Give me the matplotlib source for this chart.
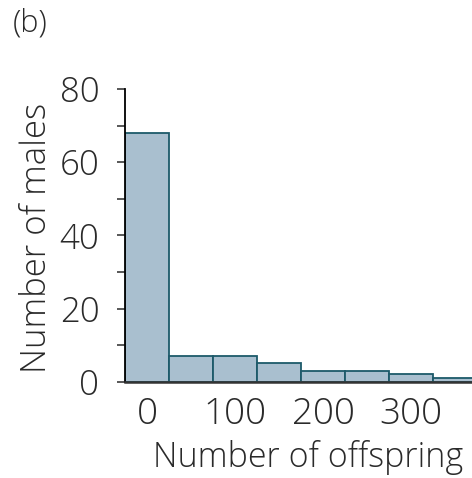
import numpy as np
import matplotlib as mpl
import matplotlib.pyplot as plt

mpl.rcParams['font.family'] = ['Open Sans', 'DejaVu Sans']

# Histogram counts (bins of 50 offspring, centred on 0, 50, 100, ...)
bin_centers = [0, 50, 100, 150, 200, 250, 300, 350]
counts = [68, 7, 7, 5, 3, 3, 2, 1]
bin_width = 50
x_ticks = [0, 100, 200, 300]
y_ticks = [0, 20, 40, 60, 80]

fig = plt.figure(figsize=(4.72, 4.78), dpi=100)
ax = fig.add_axes([0.2648, 0.2015, 0.7352, 0.6123])

ax.bar(bin_centers, counts, width=bin_width, color="#a9bfcf",
       edgecolor="#1d5a6a", linewidth=1.3, align="center")

ax.set_xlim(-25, 369)
ax.set_ylim(0, 80)

for s in ["top", "right"]:
    ax.spines[s].set_visible(False)
ax.spines["left"].set_linewidth(1.3)
ax.spines["bottom"].set_linewidth(1.8)
ax.spines["bottom"].set_color("#333333")

ax.set_yticks(y_ticks)
ax.set_yticks([10, 30, 50, 70], minor=True)
ax.tick_params(axis="y", which="both", direction="out", length=5.5, width=1.1,
               labelsize=25, pad=13, colors="#2a2a2a")
ax.set_xticks(x_ticks)
ax.tick_params(axis="x", length=0, labelsize=26.5, pad=10, colors="#2a2a2a")
for lab in ax.get_xticklabels() + ax.get_yticklabels():
    lab.set_fontweight("light")

ax.set_xlabel("Number of offspring", fontsize=24.5, color="#2a2a2a", fontweight="light")
ax.xaxis.set_label_coords(0.529, -0.199)
ax.set_ylabel("Number of males", fontsize=25, color="#2a2a2a", fontweight="light")
ax.yaxis.set_label_coords(-0.205, 0.49)

fig.text(0.027, 0.984, "(b)", fontsize=22, color="#2a2a2a", va="top", ha="left",
         fontweight="light")

plt.savefig("out.png", dpi=100)
